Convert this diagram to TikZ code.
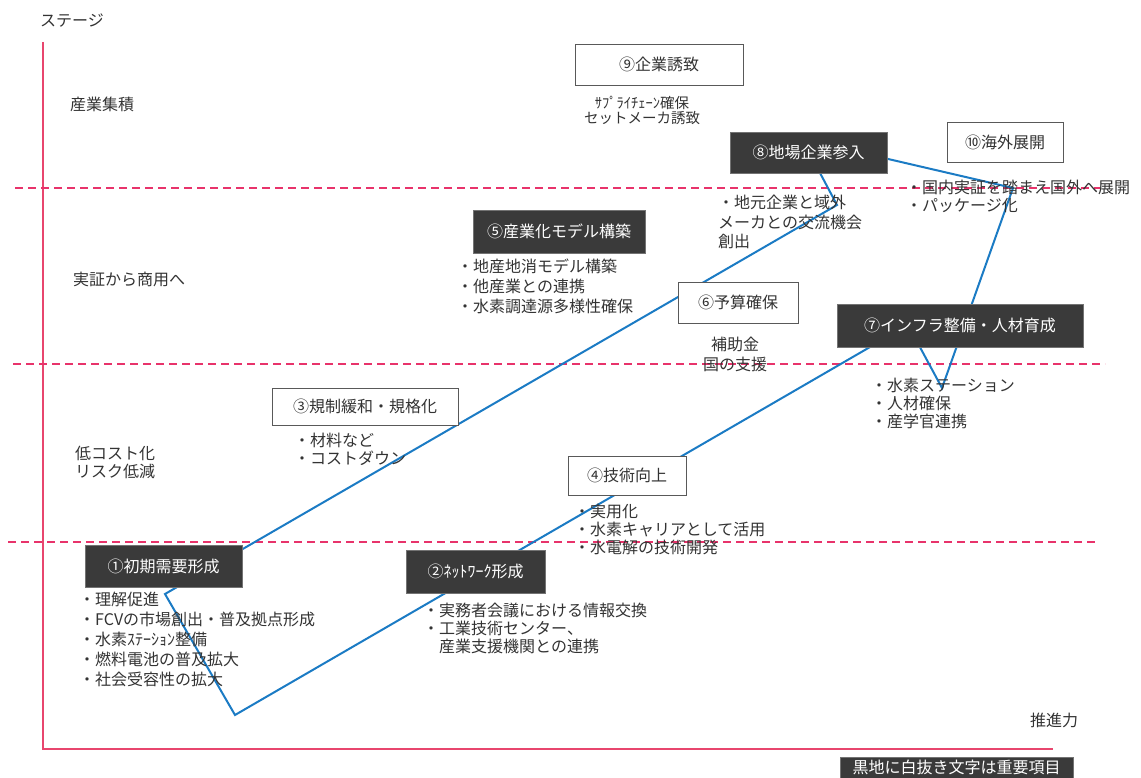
\documentclass[tikz,border=0pt]{standalone}
\usepackage{fontspec}
\setmainfont{Noto Sans CJK JP}
\definecolor{axisred}{HTML}{E8466E}
\definecolor{dashred}{HTML}{E8336B}
\definecolor{flowblue}{HTML}{1B7BC4}
\definecolor{boxdark}{HTML}{3A3A3A}
\definecolor{inkgray}{HTML}{333333}
\begin{document}
\begin{tikzpicture}[x=1pt,y=-1pt,
  txt/.style={font=\fontsize{16}{18}\selectfont, text=inkgray, inner sep=0pt},
  list/.style={txt, align=left, anchor=north west},
  clist/.style={txt, align=center, anchor=north},
  wide/.style={font=\fontsize{16}{20}\selectfont},
  darkbox/.style={draw=black!55, fill=boxdark, text=white, font=\fontsize{16}{19}\selectfont, inner sep=0pt, line width=0.8pt},
  whitebox/.style={draw=black!65, fill=white, text=inkgray, font=\fontsize{16}{19}\selectfont, inner sep=0pt, line width=0.9pt},
  axisline/.style={draw=axisred, line width=1.5pt},
  stageline/.style={draw=dashred, line width=1.2pt, dash pattern=on 8pt off 5pt},
  flow/.style={draw=flowblue, line width=2pt, line join=miter}
]
\useasboundingbox (0,0) rectangle (1141,778);

% axes
\coordinate (ytop) at (43,42);
\coordinate (origin) at (43,749);
\coordinate (xend) at (1053,749);
\draw[axisline] (ytop) -- (origin) -- (xend);
\node[txt, anchor=west] (ylab) at (40,21) {ステージ};
\node[txt, anchor=west] (xlab) at (1030,720) {推進力};

% stage separators
\coordinate (s1a) at (15,188);  \coordinate (s1b) at (1100,188);
\coordinate (s2a) at (13,364);  \coordinate (s2b) at (1105,364);
\coordinate (s3a) at (8,542);   \coordinate (s3b) at (1095,542);
\draw[stageline] (s1a) -- (s1b);
\draw[stageline] (s2a) -- (s2b);
\draw[stageline] (s3a) -- (s3b);

% stage labels
\node[txt, anchor=west] (st1) at (70,104) {産業集積};
\node[txt, anchor=west] (st2) at (73,279) {実証から商用へ};
\node[list] (st3) at (75,446) {低コスト化\\リスク低減};

% flow polygon
\coordinate (p1) at (165,594);
\coordinate (p2) at (235,715);
\coordinate (p3) at (908,325);
\coordinate (p4) at (942,388);
\coordinate (p5) at (1013,188);
\coordinate (p6) at (802,139);
\coordinate (p7) at (837,205);
\draw[flow] (p1) -- (p2) -- (p3) -- (p4) -- (p5) -- (p6) -- (p7) -- cycle;

% boxes
\node[whitebox, minimum width=168pt, minimum height=41pt] (b9) at (659,64.5) {⑨企業誘致};
\node[darkbox, minimum width=157pt, minimum height=41pt] (b8) at (808.5,152.5) {⑧地場企業参入};
\node[whitebox, minimum width=116pt, minimum height=40pt] (b10) at (1005,142) {⑩海外展開\hspace{12pt}};
\node[darkbox, minimum width=172pt, minimum height=43pt] (b5) at (559,231.5) {⑤産業化モデル構築};
\node[whitebox, minimum width=120pt, minimum height=41pt] (b6) at (738,302.5) {⑥予算確保\hspace{10pt}};
\node[darkbox, minimum width=246pt, minimum height=43pt] (b7) at (960,325.5) {⑦インフラ整備・人材育成\hspace{12pt}};
\node[whitebox, minimum width=186pt, minimum height=37pt] (b3) at (365,406.5) {③規制緩和・規格化\hspace{10pt}};
\node[whitebox, minimum width=118pt, minimum height=39pt] (b4) at (627,475.5) {④技術向上\hspace{12pt}};
\node[darkbox, minimum width=139pt, minimum height=43pt] (b2) at (475.5,571.5) {②ﾈｯﾄﾜｰｸ形成\hspace{12pt}};
\node[darkbox, minimum width=157pt, minimum height=42pt] (b1) at (163.5,566) {①初期需要形成};

% descriptions
\node[clist, font=\fontsize{14.5}{15}\selectfont] (d9) at (642,95.5) {ｻﾌﾟﾗｲﾁｪｰﾝ確保\\セットメーカ誘致};
\node[list, font=\fontsize{16}{19.5}\selectfont] (d8) at (718,195) {・地元企業と域外\\メーカとの交流機会\\創出};
\node[list] (d10) at (906,180) {・国内実証を踏まえ国外へ展開\\・パッケージ化};
\node[list, wide] (d5) at (457,259) {・地産地消モデル構築\\・他産業との連携\\・水素調達源多様性確保};
\node[clist, wide] (d6) at (735,337) {補助金\\国の支援};
\node[list] (d7) at (871,378) {・水素ステーション\\・人材確保\\・産学官連携};
\node[list] (d3) at (294,433) {・材料など\\・コストダウン};
\node[list] (d4) at (574,504) {・実用化\\・水素キャリアとして活用\\・水電解の技術開発};
\node[list] (d2) at (423,603) {・実務者会議における情報交換\\・工業技術センター、\\　産業支援機関との連携};
\node[list, wide] (d1) at (79,592) {・理解促進\\・FCVの市場創出・普及拠点形成\\・水素ｽﾃｰｼｮﾝ整備\\・燃料電池の普及拡大\\・社会受容性の拡大};

% legend
\node[darkbox, minimum width=233pt, minimum height=21pt] (legend) at (956.5,767.5) {黒地に白抜き文字は重要項目};
\end{tikzpicture}
\end{document}
